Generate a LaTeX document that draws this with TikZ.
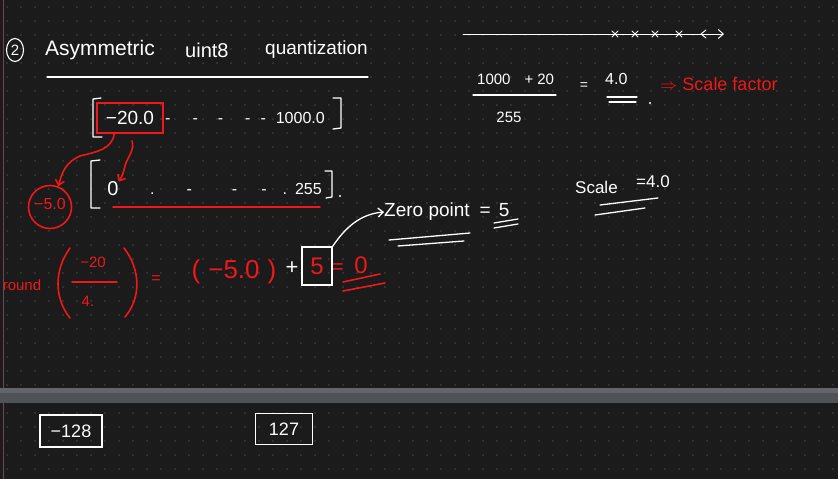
\documentclass[tikz,border=0pt]{standalone}
\usepackage{fontspec}
\setmainfont{Liberation Sans}
\usetikzlibrary{arrows.meta,calc,shapes.geometric}
\definecolor{bg}{HTML}{1B1B1B}
\definecolor{dotc}{HTML}{474747}
\definecolor{hred}{HTML}{F01818}
\definecolor{bandc}{HTML}{505356}
\definecolor{bandtop}{HTML}{62656A}
\definecolor{lline}{HTML}{6A4856}
\newcommand{\fsz}[1]{\fontsize{#1}{#1}\selectfont}
\begin{document}
\begin{tikzpicture}[x=1pt,y=-1pt,
  wt/.style={text=white,inner sep=0pt},
  rt/.style={text=hred,inner sep=0pt},
  wl/.style={draw=white,line width=1.3pt,line cap=round,line join=round},
  rl/.style={draw=hred,line width=1.6pt,line cap=round,line join=round},
  barb/.style={-{Straight Barb[length=5pt,width=9pt]}}]
\fill[bg] (0,0) rectangle (838,479);
\useasboundingbox (0,0) rectangle (838,479);
\foreach \i in {0,...,59}{\foreach \j in {0,...,33}{\fill[dotc] (7+14*\i,7+14*\j) circle (0.9);}}
% band and left line
\fill[bandc] (0,388) rectangle (838,403);
\fill[bandtop] (0,388) rectangle (838,393);
\draw[lline,line width=1pt] (3,0) -- (3,388);
\draw[lline,line width=1pt] (3,403) -- (3,479);
% title
\node[draw=white,ellipse,line width=1.1pt,minimum width=17pt,minimum height=23pt,inner sep=0pt,text=white,font=\fsz{15}] (num) at (15,50) {2};
\node[wt,anchor=west,font=\fsz{21}] (t1) at (45,50) {Asymmetric};
\node[wt,anchor=west,font=\fsz{20}] (t2) at (185,50) {uint8};
\node[wt,anchor=west,font=\fsz{19}] (t3) at (265,50) {quantization};
\coordinate (tu1) at (47,77); \coordinate (tu2) at (368,77);
\draw[wl] (tu1) -- (tu2);
% number line
\coordinate (nl1) at (463,34); \coordinate (nl2) at (724,34);
\draw[wl,line width=1pt,barb] (nl1) -- (nl2);
\foreach \x in {615,635,655,679}{\draw[wl,line width=1pt] (\x-3,31) -- (\x+3,37) (\x-3,37) -- (\x+3,31);}
\draw[wl,line width=1pt] (706,30) -- (701,34) -- (706,38);
% fraction
\node[wt,anchor=west,font=\fsz{15}] (fnum) at (477,79) {1000\hspace{14pt}+\hspace{4pt}20};
\draw[wl] (473,95) -- (556,95);
\node[wt,font=\fsz{15}] (fden) at (509,117) {255};
\node[wt,font=\fsz{14}] (feq) at (584,86) {=};
\node[wt,anchor=west,font=\fsz{16}] (f4) at (605,79) {4.0};
\draw[wl] (607,97) -- (637,97);
\draw[wl] (609,102) -- (636,102);
\fill[white] (650,103) circle (1.2);
\node[rt,anchor=west,font=\fsz{18}] (sf) at (660,84) {$\Rightarrow$ Scale factor};
% row 1
\draw[wl] (101,98) -- (93,99) -- (93,137) -- (102,137);
\node[draw=hred,line width=1.6pt,minimum width=66pt,minimum height=30pt,inner sep=0pt,text=white,font=\fsz{19}] (b20) at (130,118) {−20.0};
\node[wt,anchor=west,font=\fsz{16}] (r1) at (165,118) {-\hspace{22pt}-\hspace{20pt}-\hspace{22pt}-\hspace{10pt}-\hspace{10pt}1000.0};
\draw[wl] (333,98) -- (341,98) -- (341,128) -- (333,129);
% row 2
\draw[wl] (100,160) -- (91,161) -- (91,208) -- (100,208);
\node[wt,font=\fsz{20}] (z0) at (113,189) {0};
\node[wt,anchor=west,font=\fsz{16}] (r2) at (150,189) {.\hspace{32pt}-\hspace{40pt}-\hspace{24pt}-\hspace{16pt}.\hspace{8pt}255};
\draw[wl] (325,171) -- (332,171) -- (332,197) -- (326,198);
\fill[white] (340,196) circle (1.2);
\draw[rl] (113,207) -- (320,207);
% circle -5.0
\node[draw=hred,circle,line width=1.6pt,minimum size=43pt,inner sep=0pt,text=hred,font=\fsz{16}] (c5) at (50,207) {\raisebox{6pt}{−5.0}};
\draw[rl,barb] ($(b20.south west)+(18,0)$) .. controls (112,150) and (95,152) .. (80,156) .. controls (66,162) and (62,172) .. (c5.68);
\draw[rl,barb] ($(b20.south)+(2,7)$) .. controls (135,150) and (127,158) .. (125,166) .. controls (123,174) .. (z0.north east);
% round row
\node[rt,font=\fsz{15}] (rnd) at (22,285) {round};
\draw[rl] (70,248) .. controls (54,270) and (54,298) .. (70,318);
\draw[rl] (124,248) .. controls (141,270) and (141,298) .. (125,317);
\node[rt,font=\fsz{15}] (fn2) at (93,262) {−20};
\draw[rl] (72,282) -- (117,282);
\node[rt,font=\fsz{15}] (fd2) at (88,301) {4.};
\node[rt,font=\fsz{16}] (eq2) at (156,280) {=};
\node[rt,font=\fsz{26}] (m5) at (234,272) {(\hspace{8pt}−5.0\hspace{8pt})};
\node[wt,font=\fsz{22}] (plus) at (292,268) {+};
\node[draw=white,line width=1.3pt,minimum width=30pt,minimum height=38pt,inner sep=0pt,text=hred,font=\fsz{24}] (b5) at (317,266) {5};
\node[rt,font=\fsz{20}] (eq3) at (338,269) {=};
\node[rt,font=\fsz{24}] (zr) at (361,265) {0};
\draw[rl] (343,282) -- (380,274);
\draw[rl] (343,291) -- (385,283);
% zero point
\node[wt,anchor=west,font=\fsz{19}] (zp) at (384,212) {Zero point\hspace{10pt}=\hspace{8pt}5};
\draw[wl,barb] (b5.north east) .. controls (345,228) and (360,214) .. (zp.west);
\draw[wl] (389,240) -- (470,233);
\draw[wl] (398,246) -- (464,241);
\draw[wl] (494,223) -- (518,219);
\draw[wl] (494,228) -- (518,224);
% scale = 4.0
\node[wt,anchor=west,font=\fsz{17}] (sc) at (575,187) {Scale};
\node[wt,anchor=west,font=\fsz{17}] (sc4) at (636,182) {=4.0};
\draw[wl] (600,205) -- (658,198);
\draw[wl] (595,215) -- (645,208);
% bottom boxes
\node[draw=white,line width=1.2pt,minimum width=62pt,minimum height=32pt,inner sep=0pt,text=white,font=\fsz{18}] (m128) at (71,431) {−128};
\node[draw=white,line width=1.2pt,minimum width=57pt,minimum height=31pt,inner sep=0pt,text=white,font=\fsz{18}] (p127) at (284,429) {127};
\end{tikzpicture}
\end{document}
